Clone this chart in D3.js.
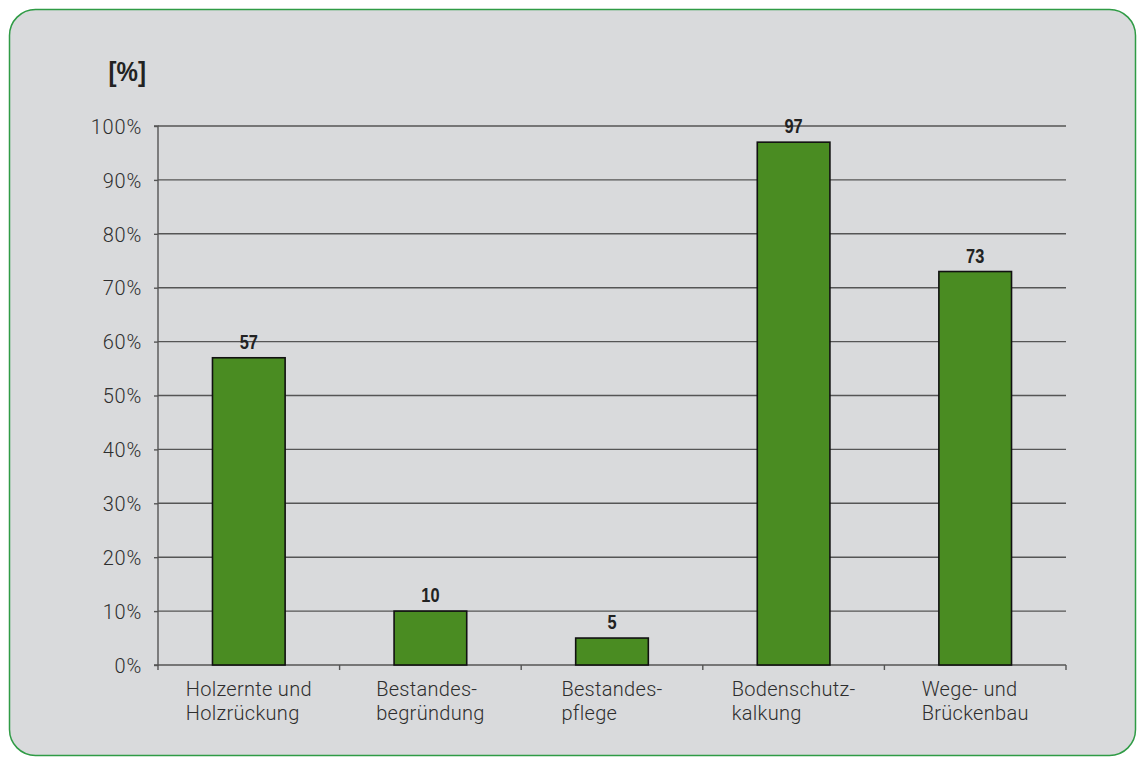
<!DOCTYPE html>
<html>
<head>
<meta charset="utf-8">
<script src="https://cdn.jsdelivr.net/npm/d3@7"></script>
<style>
  html, body { margin: 0; padding: 0; background: #ffffff; }
  svg { display: block; }
</style>
</head>
<body>
<svg id="chart" width="1141" height="760"></svg>
<script>
// Anteil der Maßnahmen je Bereich
const categories = [
  ["Holzernte und", "Holzrückung"],
  ["Bestandes-", "begründung"],
  ["Bestandes-", "pflege"],
  ["Bodenschutz-", "kalkung"],
  ["Wege- und", "Brückenbau"]
];
const values = [57, 10, 5, 97, 73];
const yTicks = [0, 10, 20, 30, 40, 50, 60, 70, 80, 90, 100];
const unitLabel = "[%]";

(function draw() {
  const svg = d3.select("#chart");
  const W = 1141, H = 760;
  const mLeft = 158, mRight = 1066, mTop = 126, mBottom = 665;
  const lightFont = "Roboto, 'Liberation Sans', Arial, sans-serif";
  const boldFont = "'Liberation Sans', Arial, sans-serif";
  const condense = 0.78;

  // Panel
  svg.append("rect")
    .attr("x", 9.5).attr("y", 9.5)
    .attr("width", W - 15).attr("height", H - 14)
    .attr("rx", 26).attr("ry", 26)
    .attr("fill", "#d9dadc")
    .attr("stroke", "#2f9b45").attr("stroke-width", 1.5);

  const keys = categories.map((c, i) => i);
  const x = d3.scaleBand().domain(keys).range([mLeft, mRight]).paddingInner(0).paddingOuter(0);
  const y = d3.scaleLinear().domain([0, 100]).range([mBottom, mTop]);

  // Gridlines
  svg.append("g").selectAll("line").data(yTicks.filter(t => t > 0)).join("line")
    .attr("x1", mLeft).attr("x2", mRight)
    .attr("y1", d => y(d)).attr("y2", d => y(d))
    .attr("stroke", "#555").attr("stroke-width", 1.4);

  // Y axis
  const yAxis = svg.append("g").attr("transform", `translate(${mLeft},0)`)
    .call(d3.axisLeft(y).tickValues(yTicks).tickSize(4).tickPadding(12).tickFormat(d => d + "%"));
  yAxis.select(".domain").attr("stroke", "#555").attr("stroke-width", 1.4).attr("d", `M-4,${y(100)}H0V${y(0)}H-4`);
  yAxis.selectAll(".tick line").attr("stroke", "#555").attr("stroke-width", 1.4);
  yAxis.selectAll(".tick text")
    .attr("fill", "#2e2e2e").attr("dy", "0.36em")
    .style("font-family", lightFont).style("font-weight", 300)
    .style("letter-spacing", "0.8px")
    .style("font-size", "20px");

  // X axis
  const xAxis = svg.append("g").attr("transform", `translate(0,${mBottom})`);
  xAxis.append("line").attr("x1", mLeft).attr("x2", mRight).attr("y1", 0).attr("y2", 0)
    .attr("stroke", "#555").attr("stroke-width", 1.4);
  const boundaries = keys.map(k => x(k)).concat([mRight]);
  xAxis.selectAll("line.tk").data(boundaries).join("line").attr("class", "tk")
    .attr("x1", d => d).attr("x2", d => d).attr("y1", 0).attr("y2", 5)
    .attr("stroke", "#555").attr("stroke-width", 1.4);

  // Category labels: left-aligned block centred under each bar
  const lab = svg.append("g").selectAll("text").data(keys).join("text")
    .attr("y", 696)
    .attr("fill", "#2e2e2e")
    .style("font-family", lightFont).style("font-weight", 300)
    .style("letter-spacing", "0.3px")
    .style("font-size", "20px");
  lab.selectAll("tspan").data(d => categories[d]).join("tspan")
    .attr("dy", (d, i) => i === 0 ? 0 : 24)
    .text(d => d);
  lab.each(function (d) {
    const spans = d3.select(this).selectAll("tspan");
    let maxW = 0;
    spans.each(function () { maxW = Math.max(maxW, this.getComputedTextLength()); });
    spans.attr("x", x(d) + x.bandwidth() / 2 - maxW / 2);
  });

  // Bars
  const barW = x.bandwidth() * 0.4;
  svg.append("g").selectAll("rect").data(keys).join("rect")
    .attr("x", d => x(d) + (x.bandwidth() - barW) / 2)
    .attr("y", d => y(values[d]))
    .attr("width", barW)
    .attr("height", d => y(0) - y(values[d]))
    .attr("fill", "#4a8c22")
    .attr("stroke", "#111").attr("stroke-width", 1.6);

  // Value labels (condensed bold)
  svg.append("g").selectAll("text").data(keys).join("text")
    .attr("transform", d => `translate(${x(d) + x.bandwidth() / 2},${y(values[d]) - 9}) scale(${condense},1)`)
    .attr("text-anchor", "middle")
    .attr("fill", "#222")
    .style("font-family", boldFont)
    .style("font-weight", "bold")
    .style("font-size", "21px")
    .text(d => values[d]);

  // Unit label
  svg.append("text")
    .attr("transform", `translate(146,81) scale(0.86,1)`)
    .attr("text-anchor", "end")
    .attr("fill", "#222")
    .style("font-family", boldFont)
    .style("font-weight", "bold")
    .style("font-size", "28px")
    .text(unitLabel);
})();
</script>
</body>
</html>
